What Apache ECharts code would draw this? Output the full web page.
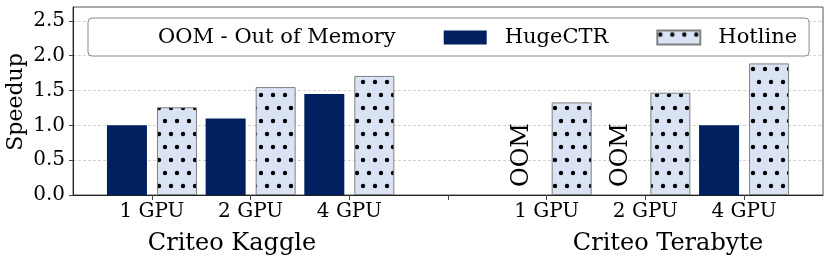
<!DOCTYPE html>
<html><head><meta charset="utf-8">
<script src="https://cdn.jsdelivr.net/npm/echarts@6/dist/echarts.min.js"></script>
<style>html,body{margin:0;padding:0;background:#fff}#c{width:830px;height:264px}</style>
</head><body><div id="c"></div>
<script>
// ---- data ----
const categories = ['1 GPU', '2 GPU', '4 GPU'];
const groupNames = ['Criteo Kaggle', 'Criteo Terabyte'];
const seriesNames = ['HugeCTR', 'Hotline'];
const hugectrKaggle = [1.0, 1.1, 1.45];
const hotlineKaggle = [1.26, 1.55, 1.71];
const hugectrTerabyte = [null, null, 1.0];   // null = OOM
const hotlineTerabyte = [1.33, 1.47, 1.89];
const yTicks = [0, 0.5, 1.0, 1.5, 2.0, 2.5];
const yTitle = 'Speedup';
const oomText = 'OOM';
const noteText = 'OOM - Out of Memory';

// ---- build ----
const FONT = 'DejaVu Serif';
const nCat = categories.length;
const groupStart = [0, nCat + 1];
const pos = (g, i) => groupStart[g] + i;
const tickPositions = [];
for (let p = 0; p <= 2 * nCat; p++) tickPositions.push(p);
const labelMap = {};
groupStart.forEach(s => categories.forEach((c, i) => { labelMap[s + i] = c; }));

function makePattern() {
  const c = document.createElement('canvas');
  c.width = 12; c.height = 26;
  const ctx = c.getContext('2d');
  ctx.fillStyle = '#dae3f3'; ctx.fillRect(0, 0, 12, 26);
  ctx.fillStyle = '#000';
  [[3, 4], [9, 17]].forEach(([x, y]) => { ctx.beginPath(); ctx.arc(x, y, 2.2, 0, Math.PI * 2); ctx.fill(); });
  return c;
}
const pat = { image: makePattern(), repeat: 'repeat' };

const hugeData = [], hotData = [];
[[hugectrKaggle, hotlineKaggle], [hugectrTerabyte, hotlineTerabyte]].forEach(([h, t], g) => {
  categories.forEach((_, i) => {
    const x = pos(g, i);
    if (h[i] == null) {
      hugeData.push({
        value: [x, 0],
        label: {
          show: true, formatter: oomText, position: 'insideBottom', rotate: 90,
          align: 'left', verticalAlign: 'middle', distance: 8,
          fontFamily: FONT, fontSize: 24, color: '#000'
        }
      });
    } else hugeData.push({ value: [x, h[i]] });
    hotData.push({ value: [x, t[i]] });
  });
});

const chart = echarts.init(document.getElementById('c'), null, { renderer: 'canvas' });
chart.setOption({
  animation: false,
  grid: { left: 73, right: 7, top: 7, bottom: 69, show: true, borderColor: '#555', borderWidth: 1,
          containLabel: false, outerBoundsMode: 'none' },
  legend: {
    left: 88, top: 18, itemWidth: 43, itemHeight: 14, itemGap: 48,
    padding: [9, 12, 8, 9], borderColor: '#888', borderWidth: 1, borderRadius: 4, backgroundColor: '#fff',
    textStyle: { fontFamily: FONT, fontSize: 21, color: '#000', padding: [0, 0, 0, 13] },
    selectedMode: false,
    data: [{ name: noteText, icon: 'none' }, { name: seriesNames[0], icon: 'rect' }, { name: seriesNames[1], icon: 'rect' }]
  },
  xAxis: {
    type: 'value', min: -0.8, max: 2 * nCat + 0.8,
    axisLine: { show: true, onZero: false, lineStyle: { color: '#222', width: 1 } },
    axisTick: { show: true, customValues: tickPositions, length: 5, lineStyle: { color: '#444' } },
    axisLabel: { customValues: tickPositions, formatter: v => labelMap[v] || '', fontFamily: FONT, fontSize: 20, color: '#000', margin: 7 },
    splitLine: { show: false }
  },
  yAxis: {
    type: 'value', min: 0, max: 2.7, interval: 0.5,
    axisLine: { show: true, onZero: false, lineStyle: { color: '#222', width: 1 } },
    axisTick: { show: true, length: 4, customValues: yTicks, lineStyle: { color: '#444' } },
    axisLabel: { customValues: yTicks, formatter: v => v.toFixed(1), fontFamily: FONT, fontSize: 20, color: '#000', margin: 8 },
    splitLine: { show: true, lineStyle: { color: '#c8c8c8', type: [3, 2], width: 0.8 } }
  },
  graphic: [
    { type: 'text', x: 16, y: 102, rotation: Math.PI / 2, style: { text: yTitle, font: '22px "DejaVu Serif"', fill: '#000', textAlign: 'center', textVerticalAlign: 'middle' } },
    { type: 'text', x: 232, y: 244, style: { text: groupNames[0], font: '24px "DejaVu Serif"', fill: '#000', textAlign: 'center', textVerticalAlign: 'middle' } },
    { type: 'text', x: 668, y: 244, style: { text: groupNames[1], font: '24px "DejaVu Serif"', fill: '#000', textAlign: 'center', textVerticalAlign: 'middle' } }
  ],
  series: [
    { type: 'line', name: noteText, data: [] },
    { type: 'bar', name: seriesNames[0], data: hugeData, barWidth: 40, barGap: '25%',
      itemStyle: { color: '#002060' } },
    { type: 'bar', name: seriesNames[1], data: hotData, barWidth: 40, barGap: '25%',
      itemStyle: { color: pat, borderColor: '#808080', borderWidth: 1 } }
  ]
});
</script></body></html>
